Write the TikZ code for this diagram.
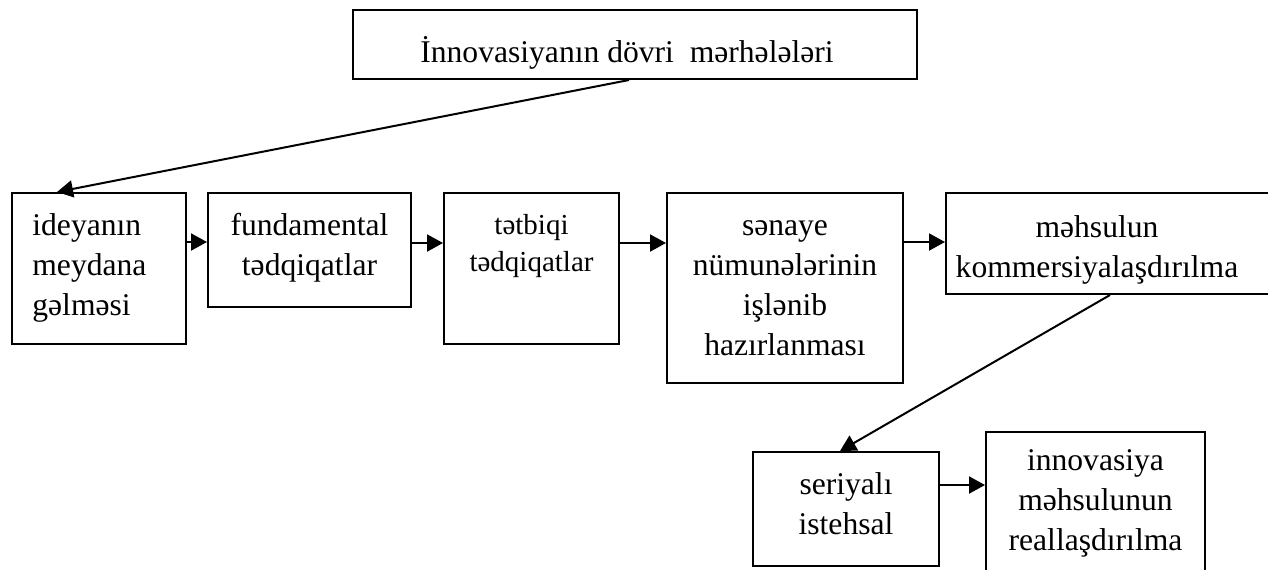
\documentclass[tikz,border=0pt]{standalone}
\usepackage{fontspec}
\setmainfont{Liberation Serif}
\usetikzlibrary{positioning,arrows.meta}

\newcommand{\topstrut}{\rule{0pt}{14pt}}

\begin{document}
\begin{tikzpicture}[x=0.5pt, y=-0.5pt,
    box/.style={draw, line width=1pt, inner sep=0pt},
    txt/.style={inner sep=0pt, align=center, font=\fontsize{15.8}{20}\selectfont},
    smalltxt/.style={txt, font=\fontsize{14.5}{18.5}\selectfont},
    arr/.style={-{Triangle[length=8pt, width=8.5pt]}, line width=1pt}]

    \clip (0, 0) rectangle (1268, 569);

    % Boxes
    \node[box, minimum width=282pt, minimum height=34.5pt] (cycle) at (635, 44.5) {};
    \node[box, minimum width=87pt, minimum height=75.5pt] (ideya) at (99, 268.5) {};
    \node[box, minimum width=101.5pt, minimum height=57pt] (fund) at (309.5, 250) {};
    \node[box, minimum width=87.5pt, minimum height=75.5pt] (tetbiq) at (531.5, 268.5) {};
    \node[box, minimum width=118pt, minimum height=95pt] (senaye) at (785, 288) {};
    \node[box, minimum width=165pt, minimum height=50.5pt] (kommers) at (1111, 243.5) {};
    \node[box, minimum width=93pt, minimum height=57pt] (serial) at (846, 509) {};
    \node[box, minimum width=109.5pt, minimum height=74pt] (innov) at (1095.5, 506) {};

    % Texts
    \node[txt, below=12.5pt of cycle.north, xshift=-4pt] (cyclet)
    {\topstrut İnnovasiyanın dövri~ mərhələləri};
    \node[txt, align=left, below right=7.5pt and 10.5pt of ideya.north west] (ideyat)
    {\topstrut ideyanın\\meydana\\gəlməsi};
    \node[txt, below=7.5pt of fund.north] (fundt) {\topstrut fundamental\\tədqiqatlar};
    \node[smalltxt, below=7pt of tetbiq.north] (tetbiqt) {\topstrut tətbiqi\\tədqiqatlar};
    \node[txt, below=7.5pt of senaye.north] (senayet)
    {\topstrut sənaye\\nümunələrinin\\işlənib\\hazırlanması};
    \node[txt, below=8.5pt of kommers.north, xshift=-7pt] (kommerst)
    {\topstrut məhsulun\\kommersiyalaşdırılma};
    \node[txt, below=7.5pt of serial.north] (serialt) {\topstrut seriyalı\\istehsal};
    \node[txt, below=5.5pt of innov.north] (innovt)
    {\topstrut innovasiya\\məhsulunun\\reallaşdırılma};

    % Arrows
    \draw[arr] ([xshift=-3pt]cycle.south) -- ([xshift=23pt]ideya.north west);
    \draw[arr] ([yshift=-25pt]ideya.north east) -- ([yshift=-25pt]fund.north west);
    \draw[arr] ([yshift=-25.5pt]fund.north east) -- ([yshift=-25.5pt]tetbiq.north west);
    \draw[arr] ([yshift=-25.5pt]tetbiq.north east) -- ([yshift=-25.5pt]senaye.north west);
    \draw[arr] ([yshift=-25pt]senaye.north east) -- ([yshift=-25pt]kommers.north west);
    \draw[arr] ([xshift=82.5pt]kommers.south west) -- ([xshift=-3pt]serial.north);
    \draw[arr] ([yshift=-17pt]serial.north east) -- ([yshift=-17pt]serial.north east -| innov.west);

\end{tikzpicture}
\end{document}
